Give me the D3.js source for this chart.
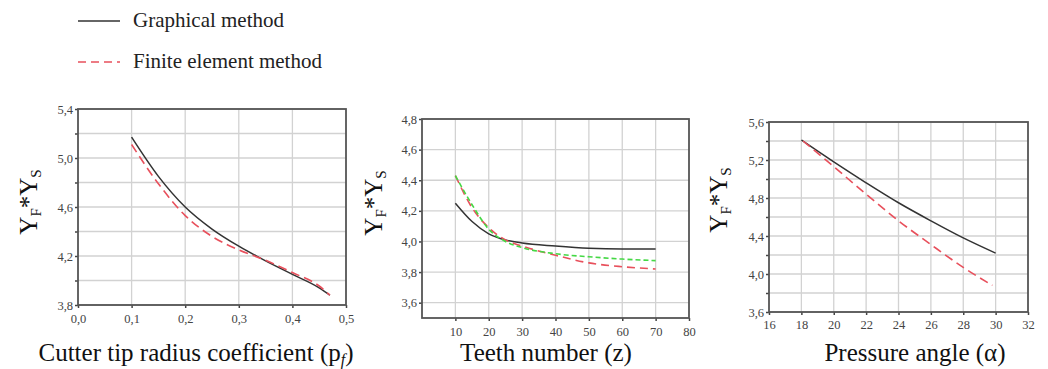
<!DOCTYPE html>
<html><head><meta charset="utf-8">
<script src="https://cdn.jsdelivr.net/npm/d3@7"></script>
<style>body{margin:0;background:#fff}svg{display:block}text{font-family:"Liberation Serif","Times New Roman","DejaVu Serif",serif}</style>
</head><body>
<svg id="c" width="1048" height="369"></svg>
<script>
// Panel 1: cutter tip radius coefficient
const p1X = [0.10, 0.15, 0.20, 0.25, 0.30, 0.35, 0.40, 0.45, 0.47];
const p1Graph = [5.17, 4.85, 4.60, 4.42, 4.28, 4.16, 4.05, 3.94, 3.88];
const p1Fem   = [5.11, 4.79, 4.53, 4.36, 4.25, 4.165, 4.065, 3.955, 3.88];
// Panel 2: teeth number
const p2X = [10, 15, 20, 25, 30, 40, 50, 60, 70];
const p2Graph = [4.25, 4.13, 4.05, 4.01, 3.99, 3.97, 3.955, 3.95, 3.95];
const p2Fem   = [4.43, 4.22, 4.09, 4.01, 3.97, 3.91, 3.86, 3.835, 3.82];
const p2Green = [4.43, 4.24, 4.08, 4.00, 3.96, 3.92, 3.90, 3.885, 3.875];
// Panel 3: pressure angle
const p3X = [18, 20, 22, 24, 26, 28, 30];
const p3Graph = [5.41, 5.18, 4.96, 4.75, 4.56, 4.38, 4.22];
const p3XFem = [18.1, 20, 22, 24, 26, 28, 29.8];
const p3Fem   = [5.40, 5.13, 4.84, 4.56, 4.31, 4.07, 3.88];

const p1XTicks = [0, 0.1, 0.2, 0.3, 0.4, 0.5];
const p1YTicks = [3.8, 4.2, 4.6, 5.0, 5.4];
const p2XTicks = [10, 20, 30, 40, 50, 60, 70, 80];
const p2YTicks = [3.6, 3.8, 4.0, 4.2, 4.4, 4.6, 4.8];
const p3XTicks = [16, 18, 20, 22, 24, 26, 28, 30, 32];
const p3YTicks = [3.6, 4.0, 4.4, 4.8, 5.2, 5.6];

const xTitles = ["Cutter tip radius coefficient (p", "Teeth number (z)", "Pressure angle (\u03b1)"];
const legendLabels = ["Graphical method", "Finite element method"];

const FONT = "'Liberation Serif','Times New Roman','DejaVu Serif',serif";
const svg = d3.select("#c");
const fmt = d => d3.format(".1f")(d).replace(".", ",");
const fmt0 = d => String(d);
const BLACK = "#333", RED = "#e8505c", GREEN = "#44d844", GRID = "#d2d2d2", FRAME = "#555";

function panel(cfg) {
  const x = d3.scaleLinear().domain(cfg.xd).range([cfg.l, cfg.r]);
  const y = d3.scaleLinear().domain(cfg.yd).range([cfg.b, cfg.t]);
  const g = svg.append("g");
  g.selectAll(".vg").data(cfg.xGrid).join("line")
    .attr("x1", d => x(d)).attr("x2", d => x(d)).attr("y1", cfg.t).attr("y2", cfg.b)
    .attr("stroke", GRID).attr("stroke-width", 1.3);
  g.selectAll(".hg").data(cfg.yGrid).join("line")
    .attr("y1", d => y(d)).attr("y2", d => y(d)).attr("x1", cfg.l).attr("x2", cfg.r)
    .attr("stroke", GRID).attr("stroke-width", 1.3);
  const xa = g.append("g").attr("transform", `translate(0,${cfg.b})`)
    .call(d3.axisBottom(x).tickValues(cfg.xTicks).tickFormat(cfg.xFmt).tickSize(3).tickPadding(cfg.xPad));
  const ya = g.append("g").attr("transform", `translate(${cfg.l},0)`)
    .call(d3.axisLeft(y).tickValues(cfg.yGrid).tickFormat(d => cfg.yTicks.some(v => Math.abs(v - d) < 1e-6) ? fmt(d) : "").tickSize(3).tickPadding(2));
  [xa, ya].forEach(a => {
    a.select(".domain").remove();
    a.selectAll(".tick line").attr("stroke", "#444").attr("stroke-width", 1.5);
    a.selectAll("text").attr("font-family", FONT).attr("font-size", 12.5).attr("fill", "#444");
  });
  g.append("rect").attr("x", cfg.l).attr("y", cfg.t).attr("width", cfg.r - cfg.l).attr("height", cfg.b - cfg.t)
    .attr("fill", "none").attr("stroke", FRAME).attr("stroke-width", 1.8);
  const line = d3.line().curve(d3.curveMonotoneX);
  cfg.series.forEach(s => {
    g.append("path").datum(s.xs.map((v, i) => [x(v), y(s.ys[i])]))
      .attr("d", line).attr("fill", "none").attr("stroke", s.color)
      .attr("stroke-width", s.w || 1.5).attr("stroke-dasharray", s.dash || null);
  });
  const tt = g.append("text").attr("x", cfg.titleX).attr("y", 361).attr("text-anchor", "middle")
    .attr("font-family", FONT).attr("font-size", 25).attr("fill", "#111");
  tt.append("tspan").text(cfg.xTitle);
  if (cfg.sub) {
    tt.append("tspan").attr("font-size", 16).attr("dy", 4).attr("font-style", "italic").text(cfg.sub);
    tt.append("tspan").attr("dy", -4).text(")");
  }
  const yt = g.append("text").attr("transform", `translate(${cfg.yTitleX},${cfg.yTitleY}) rotate(-90)`)
    .attr("text-anchor", "middle").attr("font-family", FONT).attr("font-size", 25).attr("fill", "#111");
  yt.append("tspan").text("Y");
  yt.append("tspan").attr("font-size", 15).attr("dy", 4).text("F");
  yt.append("tspan").attr("dy", -4).text("*Y");
  yt.append("tspan").attr("font-size", 15).attr("dy", 4).text("S");
}

panel({
  l: 78, r: 346, t: 109, b: 305, xd: [0, 0.5], yd: [3.8, 5.4],
  xGrid: [0.1, 0.2, 0.3, 0.4], yGrid: d3.range(3.8, 5.41, 0.2),
  xTicks: p1XTicks, yTicks: p1YTicks, xFmt: fmt, xPad: 6,
  series: [
    {xs: p1X, ys: p1Graph, color: BLACK},
    {xs: p1X, ys: p1Fem, color: RED, dash: "9,5", w: 1.6}
  ],
  xTitle: xTitles[0], sub: "f", titleX: 196, yTitleX: 37, yTitleY: 202
});
panel({
  l: 422, r: 689, t: 119, b: 318, xd: [0, 80], yd: [3.5, 4.8],
  xGrid: [10, 20, 30, 40, 50, 60, 70], yGrid: d3.range(3.6, 4.81, 0.2),
  xTicks: p2XTicks, yTicks: p2YTicks, xFmt: fmt0, xPad: 6,
  series: [
    {xs: p2X, ys: p2Graph, color: BLACK},
    {xs: p2X, ys: p2Fem, color: RED, dash: "8,5", w: 1.6},
    {xs: p2X, ys: p2Green, color: GREEN, dash: "5,3", w: 1.6}
  ],
  xTitle: xTitles[1], titleX: 546, yTitleX: 382, yTitleY: 203
});
panel({
  l: 769, r: 1028, t: 122, b: 312, xd: [16, 32], yd: [3.6, 5.6],
  xGrid: [18, 20, 22, 24, 26, 28, 30], yGrid: d3.range(3.6, 5.61, 0.2),
  xTicks: p3XTicks, yTicks: p3YTicks, xFmt: fmt0, xPad: 5,
  series: [
    {xs: p3X, ys: p3Graph, color: BLACK},
    {xs: p3XFem, ys: p3Fem, color: RED, dash: "9,5", w: 1.6}
  ],
  xTitle: xTitles[2], titleX: 915, yTitleX: 727, yTitleY: 200
});

const leg = svg.append("g");
[[BLACK, null], [RED, "8,5"]].forEach((s, i) => {
  const yy = 21 + i * 41;
  leg.append("line").attr("x1", 78).attr("x2", 120).attr("y1", yy).attr("y2", yy)
    .attr("stroke", s[0]).attr("stroke-width", 1.6).attr("stroke-dasharray", s[1]);
  leg.append("text").attr("x", 133).attr("y", yy + 6).text(legendLabels[i])
    .attr("font-family", FONT).attr("font-size", 21).attr("fill", "#222");
});
</script>
</body></html>
